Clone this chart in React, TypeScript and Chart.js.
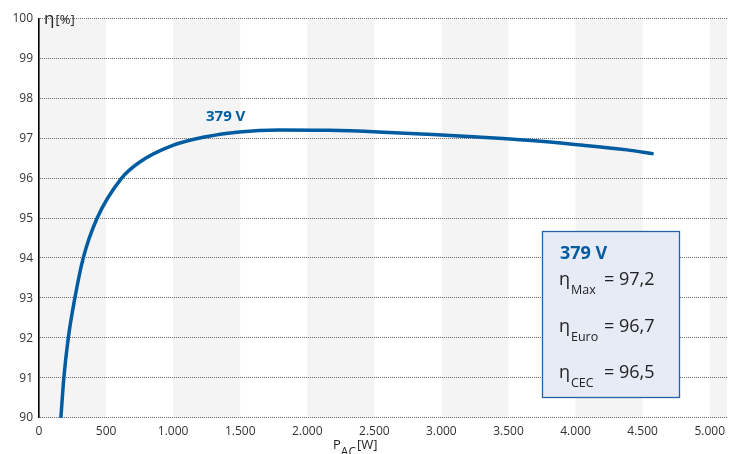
import React, { useEffect, useRef } from "react";
import { Chart, registerables } from "chart.js";

Chart.register(...registerables);

// ---- data ----
const powerW: number[] = [163, 185, 218, 267, 329, 432, 613, 749, 997, 1246, 1491, 1788, 2159, 2530, 2900, 3272, 3642, 4013, 4384, 4582];
const efficiency: number[] = [90, 91, 92, 93, 94, 95, 96, 96.41, 96.83, 97.05, 97.17, 97.22, 97.21, 97.17, 97.11, 97.04, 96.96, 96.85, 96.72, 96.62];
const seriesLabel = "379 V";
const boxTitle = "379 V";
const boxSymbols: string[] = ["Max", "Euro", "CEC"];
const boxValues: string[] = ["97,2", "96,7", "96,5"];
const xTicks: number[] = [0, 500, 1000, 1500, 2000, 2500, 3000, 3500, 4000, 4500, 5000];
const yTicks: number[] = [90, 91, 92, 93, 94, 95, 96, 97, 98, 99, 100];
const xMin = 0;
const xMax = 5130;
const yMin = 90;
const yMax = 100;
const xStep = 500;
const bandStarts: number[] = [0, 1000, 2000, 3000, 4000, 5000];

const BLUE = "#005ca1";
const FONT = "'Open Sans', 'Noto Sans', sans-serif";

const fmt = (v: number) => {
  const s = String(Math.round(v));
  return s.replace(/\B(?=(\d{3})+(?!\d))/g, ".");
};

export default function App() {
  const ref = useRef<HTMLCanvasElement | null>(null);
  useEffect(() => {
    if (!ref.current) return;
    const bgPlugin = {
      id: "bands",
      beforeDraw(chart: any) {
        const { ctx, chartArea, scales } = chart;
        const x = scales.x;
        ctx.save();
        ctx.fillStyle = "#f4f4f4";
        for (const s of bandStarts) {
          const a = x.getPixelForValue(s);
          const b = Math.min(x.getPixelForValue(s + xStep), chartArea.right);
          ctx.fillRect(a, chartArea.top, b - a, chartArea.bottom - chartArea.top);
        }
        ctx.restore();
      },
      beforeDatasetsDraw(chart: any) {
        const { ctx, chartArea, scales } = chart;
        const y = scales.y;
        ctx.save();
        // dotted grid lines
        ctx.fillStyle = "#6a6a6a";
        for (const t of yTicks) {
          const py = Math.round(y.getPixelForValue(t)) - 1;
          for (let px = Math.ceil(chartArea.left) + 1; px < chartArea.right; px += 2) {
            ctx.fillRect(px, py, 1, 1);
          }
        }
        // axis line
        ctx.fillStyle = "#000";
        ctx.fillRect(Math.round(chartArea.left) - 1, chartArea.top - 1, 1.6, chartArea.bottom - chartArea.top + 1);
        ctx.restore();
      },
      afterDraw(chart: any) {
        const { ctx, scales } = chart;
        const x = scales.x;
        const y = scales.y;
        ctx.save();
        ctx.fillStyle = "#222";
        ctx.textBaseline = "alphabetic";
        ctx.textAlign = "left";
        // y title
        const ax = x.getPixelForValue(0) + 5;
        const ay = 24;
        ctx.font = `17px ${FONT}`;
        ctx.fillText("η", ax, ay);
        const w1 = ctx.measureText("η").width;
        ctx.font = `13px ${FONT}`;
        ctx.fillText("[%]", ax + w1 + 1, ay);
        // x title
        const px = 333;
        const py = 449;
        ctx.font = `13px ${FONT}`;
        ctx.fillText("P", px, py);
        const wp = ctx.measureText("P").width;
        ctx.font = `12px ${FONT}`;
        ctx.fillText("AC", px + wp, py + 7);
        const wac = ctx.measureText("AC").width;
        ctx.font = `13px ${FONT}`;
        ctx.fillText("[W]", px + wp + wac + 1, py);

        // curve label
        ctx.fillStyle = BLUE;
        ctx.font = `bold 15px ${FONT}`;
        ctx.fillText(seriesLabel, x.getPixelForValue(1230) + 2, y.getPixelForValue(97.45));

        // box
        const bx = 542, by = 231, bw = 137, bh = 166;
        ctx.fillStyle = "#e7ebf6";
        ctx.fillRect(bx, by, bw, bh);
        ctx.strokeStyle = "#2463a8";
        ctx.lineWidth = 1.3;
        ctx.strokeRect(bx + 0.5, by + 0.5, bw, bh);
        ctx.fillStyle = BLUE;
        ctx.font = `bold 18px ${FONT}`;
        ctx.fillText(boxTitle, 560, 259);
        const rows = [285, 332, 378];
        for (let i = 0; i < boxSymbols.length; i++) {
          ctx.fillStyle = "#222";
          ctx.font = `18px ${FONT}`;
          ctx.fillText("η", 559, rows[i]);
          ctx.font = `12.5px ${FONT}`;
          ctx.fillText(boxSymbols[i], 571, rows[i] + 9);
          ctx.font = `18px ${FONT}`;
          ctx.fillText("= " + boxValues[i], 604, rows[i]);
        }
        ctx.restore();
      },
    };

    const chart = new Chart(ref.current, {
      type: "line",
      data: {
        datasets: [
          {
            label: seriesLabel,
            data: powerW.map((p, i) => ({ x: p, y: efficiency[i] })),
            borderColor: BLUE,
            borderWidth: 3.5,
            pointRadius: 0,
            cubicInterpolationMode: "monotone",
            fill: false,
          },
        ],
      },
      options: {
        animation: false,
        responsive: true,
        maintainAspectRatio: false,
        layout: { padding: { top: 19, right: 0, left: 0, bottom: 0 } },
        plugins: { legend: { display: false }, tooltip: { enabled: false } },
        scales: {
          x: {
            type: "linear",
            min: xMin,
            max: xMax,
            afterBuildTicks(scale: any) {
              scale.ticks = xTicks.map((v) => ({ value: v }));
            },
            afterFit(scale: any) {
              scale.height = 36;
            },
            border: { display: false },
            grid: { display: false, drawTicks: false },
            ticks: {
              autoSkip: false,
              maxRotation: 0,
              padding: 6,
              color: "#333",
              font: { family: FONT, size: 12 },
              callback: (v: any) => fmt(Number(v)),
            },
          },
          y: {
            type: "linear",
            min: yMin,
            max: yMax,
            afterBuildTicks(scale: any) {
              scale.ticks = yTicks.map((v) => ({ value: v }));
            },
            afterFit(scale: any) {
              scale.width = 39;
            },
            border: { display: false },
            grid: { display: false, drawTicks: false },
            ticks: {
              padding: 6,
              color: "#333",
              font: { family: FONT, size: 12 },
            },
          },
        },
      } as any,
      plugins: [bgPlugin],
    });
    return () => chart.destroy();
  }, []);

  return (
    <div style={{ position: "absolute", left: 0, top: 0, width: 731, height: 454, background: "#fff" }}>
      <canvas ref={ref} />
    </div>
  );
}
